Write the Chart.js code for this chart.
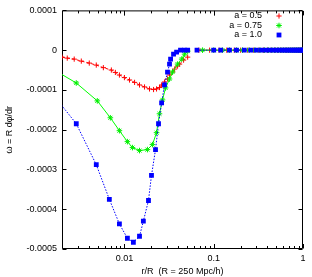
<!DOCTYPE html>
<html>
<head>
<meta charset="utf-8">
<script src="https://cdn.jsdelivr.net/npm/chart.js@4/dist/chart.umd.min.js"></script>
<style>
  html, body { margin: 0; padding: 0; background: #fff; }
  canvas { display: block; }
</style>
</head>
<body>
<canvas id="chart" width="312" height="277"></canvas>
<script>
// a = 0.5 (red, dashed, +)
const redX = [0.002, 0.00229, 0.00274, 0.00329, 0.00404, 0.00484, 0.00581, 0.00714, 0.00792, 0.00879,
  0.01, 0.0114, 0.013, 0.01476, 0.0168, 0.0191, 0.0212, 0.0229, 0.0247, 0.0261,
  0.0281, 0.0304, 0.032, 0.0346, 0.0365, 0.0394, 0.0415, 0.046, 0.0511, 0.058,
  0.068, 0.09, 0.115, 0.14, 0.17, 0.2, 0.24, 0.28, 0.32, 0.36, 0.4, 0.44, 0.48,
  0.52, 0.56, 0.6, 0.64, 0.68, 0.72, 0.76, 0.8, 0.84, 0.88, 0.92, 0.96, 1.0];
const redY = [-1.75e-5, -2.0e-5, -2.25e-5, -2.75e-5, -3.25e-5, -3.75e-5, -4.4e-5, -5.0e-5, -5.6e-5, -6.25e-5,
  -6.9e-5, -7.5e-5, -8.1e-5, -8.75e-5, -9.25e-5, -9.75e-5, -9.9e-5, -9.75e-5, -9.4e-5, -8.75e-5,
  -8.0e-5, -7.25e-5, -6.25e-5, -5.5e-5, -4.75e-5, -4.0e-5, -3.5e-5, -2.5e-5, -1.75e-5, null,
  0, 0, 0, 0, 0, 0, 0, 0, 0, 0, 0, 0, 0,
  0, 0, 0, 0, 0, 0, 0, 0, 0, 0, 0, 0, 0];

// a = 0.75 (green, solid, star)
const greenX = [0.0017, 0.00289, 0.00497, 0.00696, 0.00879, 0.0108, 0.0123, 0.01476, 0.0181, 0.0206,
  0.0229, 0.0247, 0.0267, 0.0289, 0.032, 0.0346, 0.0394, 0.0438, 0.0472, 0.0511, 0.06,
  0.075, 0.1, 0.125, 0.15, 0.18, 0.21, 0.25, 0.29, 0.33, 0.37, 0.41, 0.45, 0.49,
  0.53, 0.57, 0.61, 0.65, 0.69, 0.73, 0.77, 0.81, 0.85, 0.89, 0.93, 0.97];
const greenY = [-5.2e-5, -8.25e-5, -1.275e-4, -1.7e-4, -2.025e-4, -2.3e-4, -2.45e-4, -2.525e-4, -2.5e-4, -2.375e-4,
  -2.075e-4, -1.6e-4, -1.25e-4, -9.5e-5, -7.25e-5, -5.5e-5, -3.5e-5, -2.25e-5, -1.0e-5, -2.5e-6, null,
  0, 0, 0, 0, 0, 0, 0, 0, 0, 0, 0, 0, 0,
  0, 0, 0, 0, 0, 0, 0, 0, 0, 0, 0, 0];

// a = 1.0 (blue, dotted, squares)
const blueX = [0.0017, 0.00289, 0.00484, 0.00678, 0.00879, 0.0108, 0.0126, 0.01476, 0.0163, 0.0186,
  0.0201, 0.0223, 0.0241, 0.0261, 0.0281, 0.0304, 0.032, 0.0329, 0.0355, 0.0384,
  0.0425, 0.047, 0.0511, 0.058,
  0.065, 0.1, 0.12, 0.15, 0.18, 0.22, 0.26, 0.3, 0.34, 0.38, 0.42, 0.46, 0.5,
  0.54, 0.58, 0.62, 0.66, 0.7, 0.74, 0.78, 0.82, 0.86, 0.9, 0.94, 0.98, 1.0];
const blueY = [-1.2e-4, -1.85e-4, -2.88e-4, -3.75e-4, -4.37e-4, -4.73e-4, -4.83e-4, -4.68e-4, -4.3e-4, -3.78e-4,
  -3.15e-4, -2.5e-4, -1.85e-4, -1.325e-4, -8.75e-5, -5.5e-5, -3.5e-5, -2.25e-5, -1.0e-5, -5.0e-6,
  0, 0, 0, null,
  0, 0, 0, 0, 0, 0, 0, 0, 0, 0, 0, 0, 0,
  0, 0, 0, 0, 0, 0, 0, 0, 0, 0, 0, 0, 0];

const seriesNames = ['a = 0.5', 'a = 0.75', 'a = 1.0'];
const xTicks = [0.01, 0.1, 1];
const yTicks = [-0.0005, -0.0004, -0.0003, -0.0002, -0.0001, 0, 0.0001];

const FONT = 'Liberation Sans, Arial, sans-serif';

function pts(xs, ys) {
  return xs.map((x, i) => ({ x: x, y: ys[i] }));
}
// the first green/blue point sits left of the axis, only its line shows
function hideOut(r) {
  return ctx => (ctx.raw && ctx.raw.x < 0.002 ? 0 : r);
}

const datasets = [
  {
    label: seriesNames[0], data: pts(redX, redY), order: 3,
    borderColor: '#ff0000', borderWidth: 1, borderDash: [3, 2],
    pointStyle: 'cross', pointRadius: 2.6, pointBorderWidth: 1,
    pointBorderColor: '#ff0000', pointBackgroundColor: '#ff0000'
  },
  {
    label: seriesNames[1], data: pts(greenX, greenY), order: 2,
    borderColor: '#00ff00', borderWidth: 1,
    pointStyle: 'star', pointRadius: hideOut(2.8), pointBorderWidth: 1,
    pointBorderColor: '#00ee00', pointBackgroundColor: '#00ff00'
  },
  {
    label: seriesNames[2], data: pts(blueX, blueY), order: 1,
    borderColor: '#0000ff', borderWidth: 1, borderDash: [1.5, 1.5],
    pointStyle: 'rect', pointRadius: hideOut(3.4), pointBorderWidth: 0,
    pointBorderColor: '#0000ff', pointBackgroundColor: '#0000ff'
  }
];
datasets.forEach(d => { d.clip = 0; d.tension = 0; d.fill = false; });

// gnuplot style box with inward ticks
const framePlugin = {
  id: 'frame',
  beforeDatasetsDraw(chart) {
    const { ctx, chartArea: a, scales: { x, y } } = chart;
    ctx.save();
    ctx.strokeStyle = '#000';
    ctx.lineWidth = 1;
    ctx.beginPath();
    const L = a.left + 0.5, R = a.right - 0.5, T = a.top + 0.5, B = a.bottom - 0.5;
    ctx.rect(L, T, R - L, B - T);
    // x ticks, major and minor, bottom and top
    for (const dec of [0.001, 0.01, 0.1]) {
      for (let k = 1; k <= 10; k++) {
        const v = dec * k;
        if (v < 0.002 - 1e-9 || v > 1 + 1e-9) continue;
        const major = k === 1 || k === 10;
        const len = major ? 4.5 : 2.5;
        const px = Math.round(x.getPixelForValue(v)) + 0.5;
        ctx.moveTo(px, B); ctx.lineTo(px, B - len);
        ctx.moveTo(px, T); ctx.lineTo(px, T + len);
      }
    }
    // y ticks, left and right
    yTicks.forEach(v => {
      const py = Math.round(y.getPixelForValue(v)) + 0.5;
      ctx.moveTo(L, py); ctx.lineTo(L + 4, py);
      ctx.moveTo(R, py); ctx.lineTo(R - 4, py);
    });
    ctx.stroke();
    ctx.restore();
  },
  afterDraw(chart) {
    // key in the top right corner: text right aligned, marker on its right
    const { ctx } = chart;
    const rows = [16, 25.5, 35];
    ctx.save();
    ctx.font = '9px ' + FONT;
    ctx.textAlign = 'right';
    ctx.textBaseline = 'middle';
    chart.data.datasets.forEach((ds, i) => {
      ctx.fillStyle = '#000';
      ctx.fillText(ds.label, 262, rows[i]);
      const r = typeof ds.pointRadius === 'function' ? ds.pointRadius({ raw: { x: 1 } }) : ds.pointRadius;
      ctx.strokeStyle = ds.pointBorderColor;
      ctx.fillStyle = ds.pointBackgroundColor;
      ctx.lineWidth = ds.pointBorderWidth;
      Chart.helpers.drawPoint(ctx, {
        pointStyle: ds.pointStyle, radius: r, borderWidth: ds.pointBorderWidth, rotation: 0
      }, 279, rows[i]);
    });
    ctx.restore();
  }
};

new Chart(document.getElementById('chart'), {
  type: 'line',
  data: { datasets: datasets },
  options: {
    responsive: false,
    animation: false,
    devicePixelRatio: 1,
    layout: { padding: { top: 8, right: 9, left: 0, bottom: 0 } },
    plugins: { legend: { display: false }, tooltip: { enabled: false } },
    scales: {
      x: {
        type: 'logarithmic',
        min: 0.002,
        max: 1,
        grid: { display: false, drawTicks: false },
        border: { display: false },
        afterBuildTicks: s => { s.ticks = xTicks.map(v => ({ value: v })); },
        afterFit: s => { s.height = 28; },
        ticks: {
          autoSkip: false, maxRotation: 0, padding: 4, color: '#000',
          font: { family: FONT, size: 9 },
          callback: v => String(v)
        },
        title: {
          display: true, text: 'r/R  (R = 250 Mpc/h)', color: '#000',
          font: { family: FONT, size: 9 }, padding: { top: 0, bottom: 0 }
        }
      },
      y: {
        min: -0.0005,
        max: 0.0001,
        grid: { display: false, drawTicks: false },
        border: { display: false },
        afterBuildTicks: s => { s.ticks = yTicks.map(v => ({ value: v })); },
        afterFit: s => { s.width = 62; },
        ticks: {
          padding: 5, color: '#000',
          font: { family: FONT, size: 9 },
          callback: v => (v === 0 ? '0' : v.toFixed(4))
        },
        title: {
          display: true, text: 'ω = R dφ/dr', color: '#000',
          font: { family: FONT, size: 9 }, padding: { top: 4, bottom: 0 }
        }
      }
    }
  },
  plugins: [framePlugin]
});
</script>
</body>
</html>
